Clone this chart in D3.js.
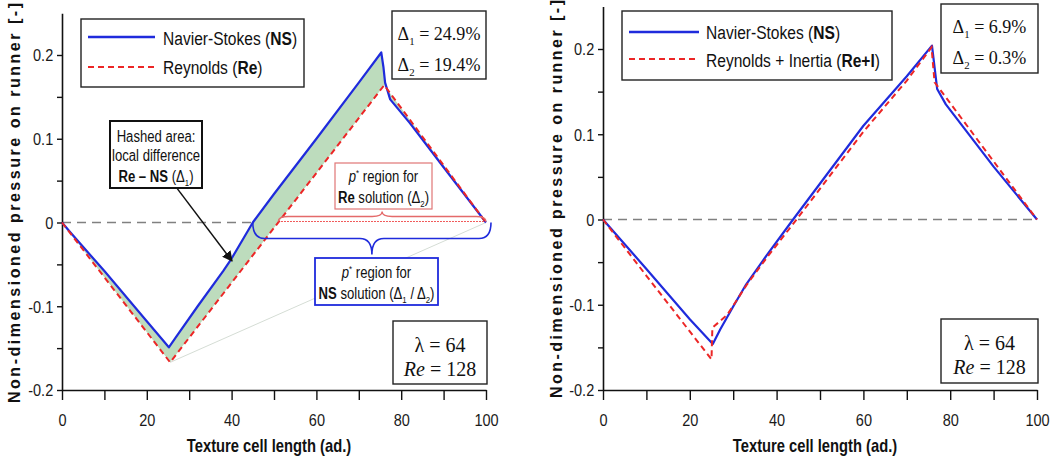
<!DOCTYPE html>
<html>
<head>
<meta charset="utf-8">
<script src="https://cdn.jsdelivr.net/npm/d3@7"></script>
<style>
  body { margin: 0; background: #fff; }
  svg { display: block; }
</style>
</head>
<body>
<svg id="chart" width="1060" height="465"></svg>
<script>
// ---- data ----
const xTickValues = [0, 10, 20, 30, 40, 50, 60, 70, 80, 90, 100];
const xLabelled = [0, 20, 40, 60, 80, 100];
const yTickValues = [-0.2, -0.15, -0.1, -0.05, 0, 0.05, 0.1, 0.15, 0.2];
const yLabelled = [-0.2, -0.1, 0, 0.1, 0.2];

// left panel: Navier-Stokes vs Reynolds
const leftNS = [[0, 0], [2, -0.012], [10, -0.058], [20, -0.118], [25.2, -0.149], [27, -0.136],
  [32, -0.1], [38, -0.058], [40, -0.043], [45, 0], [50, 0.034], [60, 0.1], [70, 0.167],
  [75.3, 0.203], [75.8, 0.186], [76.2, 0.167], [77.4, 0.147], [82, 0.119], [90, 0.066], [100, 0]];
const leftRe = [[0, 0], [25.5, -0.167], [76, 0.164], [100, 0]];

// right panel: Navier-Stokes vs Reynolds + Inertia
const rightNS = [[0, 0], [10, -0.058], [20, -0.117], [25.3, -0.146], [27, -0.129], [30, -0.102],
  [33, -0.076], [38, -0.04], [43.8, 0], [60, 0.11], [70, 0.168], [75.8, 0.204], [77, 0.153],
  [79, 0.135], [90, 0.062], [100, 0]];
const rightReI = [[0, 0], [10, -0.066], [25, -0.164], [25.2, -0.127], [28.6, -0.112], [33.2, -0.076],
  [38, -0.043], [44.6, 0], [60, 0.103], [70, 0.163], [75.7, 0.202], [76.4, 0.161], [100, 0]];

const legendLeft = ["Reynolds (", "Re", ")"];
const legendRight = ["Reynolds + Inertia (", "Re+I", ")"];
const deltasLeft = ["24.9%", "19.4%"];
const deltasRight = ["6.9%", "0.3%"];

// ---- styles ----
const sans = "'Liberation Sans', Arial, Helvetica, sans-serif";
const serif = "'Liberation Serif', 'Times New Roman', serif";
const blue = "#1f2bdc";
const red = "#ec2626";
const squeeze = 0.82; // the source figure is horizontally compressed

const svg = d3.select("#chart");

// text with mixed tspans (bold/italic/sub/sup)
function addText(g, x, y, parts, o) {
  const size = o.size;
  const t = g.append("text")
    .attr("transform", `translate(${x},${y}) scale(${o.sx || 1},1)`)
    .attr("font-family", o.font || sans)
    .attr("font-size", size)
    .attr("text-anchor", o.anchor || "start")
    .attr("fill", o.fill || "#111");
  let shifted = 0;
  parts.forEach(p => {
    if (typeof p === "string") p = { t: p };
    const s = t.append("tspan").text(p.t);
    if (p.b) s.attr("font-weight", "bold");
    if (p.i) s.attr("font-style", "italic");
    let target = 0;
    if (p.sub) { target = size * 0.25; s.attr("font-size", size * 0.6); }
    if (p.sup) { target = -size * 0.35; s.attr("font-size", size * 0.6); }
    if (target - shifted !== 0) s.attr("dy", target - shifted);
    shifted = target;
  });
  return t;
}

function box(g, x0, y0, x1, y1, stroke, sw) {
  g.append("rect").attr("x", x0).attr("y", y0).attr("width", x1 - x0).attr("height", y1 - y0)
    .attr("fill", "#fff").attr("stroke", stroke).attr("stroke-width", sw);
}

function bracePath(x1, x2, y, h, r) {
  const xm = (x1 + x2) / 2;
  return `M${x1},${y} Q${x1},${y + h} ${x1 + r},${y + h} L${xm - r},${y + h} ` +
    `Q${xm},${y + h} ${xm},${y + 2 * h} Q${xm},${y + h} ${xm + r},${y + h} ` +
    `L${x2 - r},${y + h} Q${x2},${y + h} ${x2},${y}`;
}

function drawPanel(cfg) {
  const g = svg.append("g");
  const x = d3.scaleLinear().domain([0, 100]).range(cfg.xRange);
  const y0 = d3.scaleLinear().domain([-0.2, 0.2]).range(cfg.yRange);
  const y = d3.scaleLinear().domain([-0.2, 0.25]).range([y0(-0.2), y0(0.25)]);
  const line = d3.line().x(d => x(d[0])).y(d => y(d[1]));

  // green hashed area between the two solutions
  if (cfg.fill) {
    const poly = cfg.ns.concat(cfg.re.slice().reverse());
    g.append("path").attr("d", line(poly) + "Z").attr("fill", "#bddcbd").attr("stroke", "none");
  }

  // faint guide line (left panel artefact)
  if (cfg.faint) {
    g.append("path").attr("d", line(cfg.faint)).attr("fill", "none")
      .attr("stroke", "#d5ddd5").attr("stroke-width", 1);
  }

  // zero reference
  g.append("path").attr("d", line([[0, 0], [cfg.zeroEnd, 0]]))
    .attr("stroke", "#808080").attr("stroke-width", 1.5).attr("stroke-dasharray", "9,6").attr("fill", "none");

  // axes
  const xAxis = d3.axisBottom(x).tickValues(xTickValues)
    .tickFormat(d => xLabelled.includes(d) ? d : "").tickSize(10).tickSizeOuter(0).tickPadding(14);
  const gx = g.append("g").attr("transform", `translate(0,${y(-0.2)})`).call(xAxis);
  const yAxis = d3.axisLeft(y).tickValues(yTickValues)
    .tickFormat(d => yLabelled.includes(d) ? String(d) : "").tickSize(5).tickSizeOuter(0).tickPadding(5);
  const gy = g.append("g").attr("transform", `translate(${x(0)},0)`).call(yAxis);
  [gx, gy].forEach(a => {
    a.select(".domain").attr("stroke", "#111").attr("stroke-width", 1.6);
    a.selectAll(".tick line").attr("stroke", "#111").attr("stroke-width", 1.4);
    a.selectAll(".tick text").attr("font-family", sans).attr("font-size", 16.5).attr("fill", "#1a1a1a")
      .attr("transform", "scale(0.88,1)");
  });
  gy.selectAll(".tick text").attr("dy", "0.36em");

  // series
  g.append("path").attr("d", line(cfg.ns)).attr("fill", "none")
    .attr("stroke", blue).attr("stroke-width", 2.2).attr("stroke-linejoin", "round");
  g.append("path").attr("d", line(cfg.re)).attr("fill", "none")
    .attr("stroke", red).attr("stroke-width", 2).attr("stroke-dasharray", "6,4");

  // axis titles
  const xt = (cfg.xRange[0] + cfg.xRange[1]) / 2 - 5;
  addText(g, xt, 452, [{ t: "Texture cell length (ad.)", b: true }], { size: 18, sx: squeeze, anchor: "middle" });
  g.append("text")
    .attr("transform", `translate(${cfg.yTitleX},${cfg.yTitleMid}) rotate(-90)`)
    .attr("text-anchor", "middle").attr("font-family", sans).attr("font-weight", "bold")
    .attr("font-size", 16).attr("fill", "#111")
    .attr("textLength", cfg.yTitleLen).attr("lengthAdjust", "spacing")
    .text("Non-dimensioned pressure on runner [-]");

  // legend
  const L = cfg.legend;
  box(g, L.x0, L.y0, L.x1, L.y1, "#222", 1.4);
  g.append("line").attr("x1", L.lx0).attr("x2", L.lx1).attr("y1", L.ly[0]).attr("y2", L.ly[0])
    .attr("stroke", blue).attr("stroke-width", 2.4);
  g.append("line").attr("x1", L.lx0).attr("x2", L.lx1).attr("y1", L.ly[1]).attr("y2", L.ly[1])
    .attr("stroke", red).attr("stroke-width", 2).attr("stroke-dasharray", "6,4");
  addText(g, L.tx, L.ty[0], ["Navier-Stokes (", { t: "NS", b: true }, ")"], { size: 19, sx: squeeze });
  addText(g, L.tx, L.ty[1], [cfg.reLabel[0], { t: cfg.reLabel[1], b: true }, cfg.reLabel[2]], { size: 19, sx: squeeze });

  // delta box
  const D = cfg.dbox;
  box(g, D.x0, D.y0, D.x1, D.y1, "#222", 1.4);
  const dm = (D.x0 + D.x1) / 2;
  addText(g, dm, D.y0 + 29, ["\u0394", { t: "1", sub: true }, { t: " = " + cfg.deltas[0] }], { size: 19, font: serif, anchor: "middle", sx: 0.95 });
  addText(g, dm, D.y0 + 60, ["\u0394", { t: "2", sub: true }, { t: " = " + cfg.deltas[1] }], { size: 19, font: serif, anchor: "middle", sx: 0.95 });

  // parameter box
  const P = cfg.pbox;
  box(g, P.x0, P.y0, P.x1, P.y1, "#222", 1.4);
  const pm = (P.x0 + P.x1) / 2;
  addText(g, pm, P.y0 + 31, ["\u03bb = 64"], { size: 20, font: serif, anchor: "middle" });
  addText(g, pm, P.y0 + 55, [{ t: "Re", i: true }, " = 128"], { size: 20, font: serif, anchor: "middle" });

  return { g, x, y };
}

// ---- left panel ----
const left = drawPanel({
  xRange: [62, 486], yRange: [390, 55],
  ns: leftNS, re: leftRe, fill: true,
  faint: [[25.5, -0.167], [100, 0]],
  zeroEnd: 45,
  yTitleX: 20, yTitleMid: 203, yTitleLen: 400,
  reLabel: legendLeft,
  legend: { x0: 81, y0: 19, x1: 304, y1: 87, lx0: 88, lx1: 155, ly: [37, 67], tx: 163, ty: [45, 74] },
  dbox: { x0: 392, y0: 11, x1: 486, y1: 79 },
  pbox: { x0: 393, y0: 321, x1: 487, y1: 384 },
  deltas: deltasLeft
});

// annotations on the left panel
{
  const { g, x, y } = left;
  // red p* region (Re solution)
  g.append("path").attr("d", `M${x(51)},${y(0) - 1}H${x(100)}`)
    .attr("stroke", red).attr("stroke-width", 1.2).attr("stroke-dasharray", "1.5,1.5").attr("fill", "none");
  g.append("path").attr("d", bracePath(x(51), x(100), y(0) - 1, -5, 10))
    .attr("fill", "none").attr("stroke", "#e46a6a").attr("stroke-width", 1.3);
  // blue p* region (NS solution)
  g.append("path").attr("d", bracePath(x(45), x(100) + 5, y(0), 16, 12))
    .attr("fill", "none").attr("stroke", blue).attr("stroke-width", 1.6);

  // hashed-area callout with arrow
  box(g, 110, 121, 202, 188, "#111", 2);
  addText(g, 156, 142, ["Hashed area:"], { size: 16, sx: squeeze, anchor: "middle" });
  addText(g, 156, 161, ["local difference"], { size: 16, sx: squeeze, anchor: "middle" });
  addText(g, 156, 182, [{ t: "Re \u2013 NS", b: true }, " (\u0394", { t: "1", sub: true }, { t: ")" }], { size: 16, sx: squeeze, anchor: "middle" });

  svg.append("defs").append("marker").attr("id", "arrow").attr("viewBox", "0 0 10 10")
    .attr("refX", 9).attr("refY", 5).attr("markerWidth", 7).attr("markerHeight", 7)
    .attr("orient", "auto").append("path").attr("d", "M0,0L10,5L0,10Z").attr("fill", "#111");
  g.append("line").attr("x1", x(27.1)).attr("y1", y(0.041)).attr("x2", x(40.1)).attr("y2", y(-0.046))
    .attr("stroke", "#111").attr("stroke-width", 1.5).attr("marker-end", "url(#arrow)");

  // region labels
  box(g, 335, 163, 432, 209, "#e07676", 1.2);
  addText(g, 383.5, 182, [{ t: "p", i: true }, { t: "*", sup: true }, { t: " region for" }], { size: 16, sx: squeeze, anchor: "middle" });
  addText(g, 383.5, 203, [{ t: "Re", b: true }, " solution (\u0394", { t: "2", sub: true }, { t: ")" }], { size: 16, sx: squeeze, anchor: "middle" });

  box(g, 315, 258, 438, 305, blue, 1.8);
  addText(g, 376.5, 278, [{ t: "p", i: true }, { t: "*", sup: true }, { t: " region for" }], { size: 16, sx: squeeze, anchor: "middle" });
  addText(g, 376.5, 299, [{ t: "NS", b: true }, " solution (\u0394", { t: "1", sub: true }, { t: " / \u0394" }, { t: "2", sub: true }, { t: ")" }], { size: 16, sx: squeeze, anchor: "middle" });
}

// ---- right panel ----
drawPanel({
  xRange: [603, 1037], yRange: [390, 49],
  ns: rightNS, re: rightReI, fill: false,
  zeroEnd: 100,
  yTitleX: 562, yTitleMid: 199, yTitleLen: 398,
  reLabel: legendRight,
  legend: { x0: 622, y0: 11, x1: 892, y1: 80, lx0: 629, lx1: 699, ly: [32, 59], tx: 706, ty: [39, 67] },
  dbox: { x0: 941, y0: 4, x1: 1038, y1: 73 },
  pbox: { x0: 941, y0: 319, x1: 1038, y1: 383 },
  deltas: deltasRight
});
</script>
</body>
</html>
